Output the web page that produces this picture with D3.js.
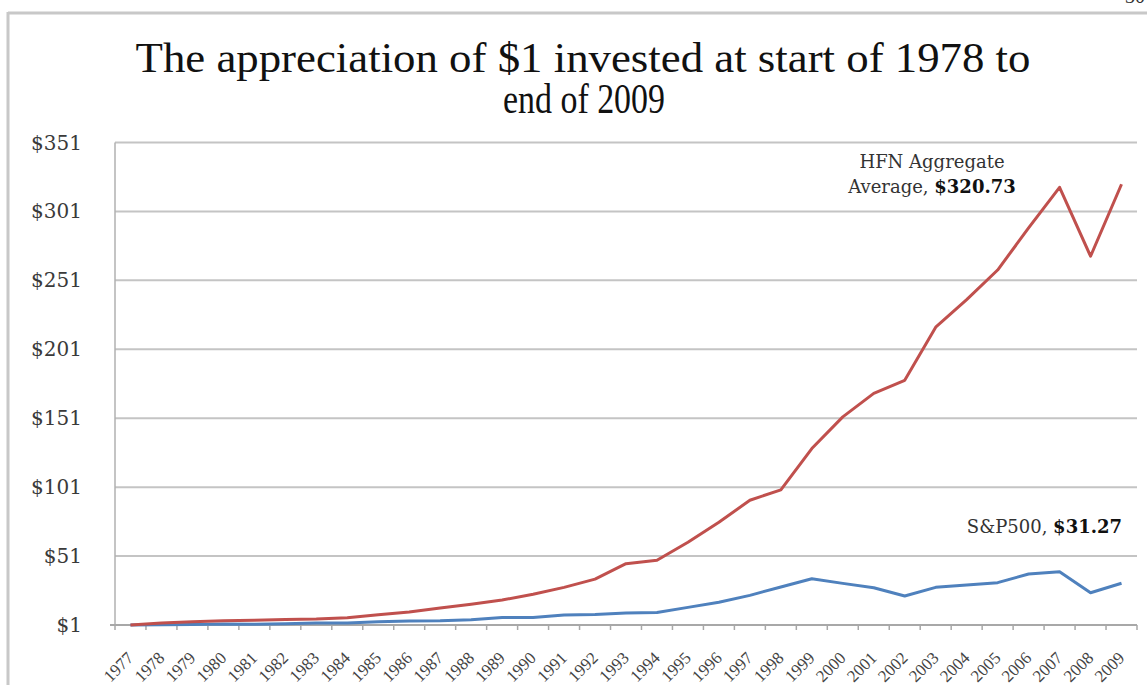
<!DOCTYPE html>
<html>
<head>
<meta charset="utf-8">
<script src="https://cdn.jsdelivr.net/npm/d3@7"></script>
<style>
  body { margin: 0; background: #fff; }
  svg { display: block; }
</style>
</head>
<body>
<svg id="chart" width="1147" height="685"></svg>
<script>
// categories
var years = ["1977","1978","1979","1980","1981","1982","1983","1984","1985","1986","1987",
  "1988","1989","1990","1991","1992","1993","1994","1995","1996","1997","1998","1999",
  "2000","2001","2002","2003","2004","2005","2006","2007","2008","2009"];

// growth of $1
var hfn = [1, 2.5, 3.3, 4.0, 4.5, 5.0, 5.4, 6.3, 8.5, 10.4, 13.4, 16.0, 19.1, 23.3, 28.3,
  34.3, 45.5, 48.0, 61.0, 75.5, 91.5, 99.0, 129.0, 152.0, 169.0, 178.5, 217.0, 237.0,
  258.5, 289.0, 318.5, 268.5, 320.73];
var sp500 = [1, 1.1, 1.3, 1.7, 1.6, 1.9, 2.4, 2.5, 3.3, 3.9, 4.1, 4.8, 6.4, 6.4, 8.3,
  8.7, 9.7, 10.0, 13.8, 17.5, 22.5, 28.6, 34.5, 31.2, 28.0, 22.0, 28.3, 30.0, 31.7,
  38.0, 39.6, 24.4, 31.27];

var yTicks = [1, 51, 101, 151, 201, 251, 301, 351];

var svg = d3.select("#chart");

// outer frame of the slide
svg.append("line").attr("x1", 8).attr("x2", 1147).attr("y1", 13).attr("y2", 13)
  .attr("stroke", "#c8c8c8").attr("stroke-width", 3);
svg.append("line").attr("x1", 8).attr("x2", 8).attr("y1", 12).attr("y2", 685)
  .attr("stroke", "#c8c8c8").attr("stroke-width", 3);
svg.append("text").attr("x", 1125).attr("y", 3)
  .attr("font-family", "Liberation Serif").attr("font-size", 20).attr("fill", "#333")
  .text("30");

// title (condensed serif in the original), two lines in one text
var title = svg.append("text").attr("text-anchor", "middle")
  .attr("font-family", "Liberation Serif").attr("font-size", 42).attr("fill", "#111");
title.append("tspan").attr("x", 583).attr("y", 72)
  .attr("textLength", 895).attr("lengthAdjust", "spacingAndGlyphs")
  .text("The appreciation of $1 invested at start of 1978 to");
title.append("tspan").attr("x", 584).attr("y", 113)
  .attr("textLength", 162).attr("lengthAdjust", "spacingAndGlyphs")
  .text("end of 2009");

var plotLeft = 115, plotRight = 1137, plotTop = 142.5, plotBottom = 625;

var x = d3.scaleBand().domain(years).range([plotLeft, plotRight]).padding(0);
var y = d3.scaleLinear().domain([1, 351]).range([plotBottom, plotTop]);

// gridlines
svg.append("g").selectAll("line")
  .data(yTicks.slice(1))
  .enter().append("line")
  .attr("x1", plotLeft).attr("x2", plotRight)
  .attr("y1", d => y(d)).attr("y2", d => y(d))
  .attr("stroke", "#c4c4c4").attr("stroke-width", 2);

// y axis
svg.append("line").attr("x1", plotLeft).attr("x2", plotLeft).attr("y1", plotTop).attr("y2", plotBottom)
  .attr("stroke", "#b0b0b0").attr("stroke-width", 1.5);
svg.append("g").selectAll("text")
  .data(yTicks)
  .enter().append("text")
  .attr("x", 82).attr("y", d => y(d)).attr("dy", "0.35em")
  .attr("text-anchor", "end")
  .attr("font-family", "DejaVu Serif").attr("font-size", 20).attr("fill", "#3a3a3a")
  .text(d => "$" + d);

// x axis
svg.append("line").attr("x1", plotLeft - 5).attr("x2", plotRight).attr("y1", plotBottom).attr("y2", plotBottom)
  .attr("stroke", "#a8a8a8").attr("stroke-width", 2);
svg.append("g").selectAll("line")
  .data(years.concat(["end"]))
  .enter().append("line")
  .attr("x1", d => d == "end" ? plotRight : x(d))
  .attr("x2", d => d == "end" ? plotRight : x(d))
  .attr("y1", plotBottom).attr("y2", plotBottom + 5)
  .attr("stroke", "#a8a8a8").attr("stroke-width", 1.5);
svg.append("g").selectAll("text")
  .data(years)
  .enter().append("text")
  .attr("transform", d => "translate(" + (x(d) + x.bandwidth() / 2 + 4) + "," + 659 + ") rotate(-45)")
  .attr("text-anchor", "end")
  .attr("font-family", "Liberation Serif").attr("font-size", 17).attr("fill", "#444")
  .text(d => d);

// lines
var line = d3.line()
  .x((d, i) => x(years[i]) + x.bandwidth() / 2)
  .y(d => y(d));

svg.append("path").datum(sp500)
  .attr("d", line).attr("fill", "none")
  .attr("stroke", "#4f81bd").attr("stroke-width", 3).attr("stroke-linejoin", "round");
svg.append("path").datum(hfn)
  .attr("d", line).attr("fill", "none")
  .attr("stroke", "#c0504d").attr("stroke-width", 3).attr("stroke-linejoin", "round");

// labels
var hfnLabel = svg.append("text").attr("x", 932).attr("y", 168).attr("text-anchor", "middle")
  .attr("font-family", "DejaVu Serif").attr("font-size", 18).attr("fill", "#333");
hfnLabel.append("tspan").text("HFN Aggregate");
var hfnLabel2 = svg.append("text").attr("x", 932).attr("y", 193).attr("text-anchor", "middle")
  .attr("font-family", "DejaVu Serif").attr("font-size", 18).attr("fill", "#333");
hfnLabel2.append("tspan").text("Average, ");
hfnLabel2.append("tspan").attr("font-weight", "bold").attr("fill", "#111").text("$320.73");

var spLabel = svg.append("text").attr("x", 1122).attr("y", 533).attr("text-anchor", "end")
  .attr("font-family", "DejaVu Serif").attr("font-size", 18).attr("fill", "#333");
spLabel.append("tspan").text("S&P500, ");
spLabel.append("tspan").attr("font-weight", "bold").attr("fill", "#111").text("$31.27");
</script>
</body>
</html>
